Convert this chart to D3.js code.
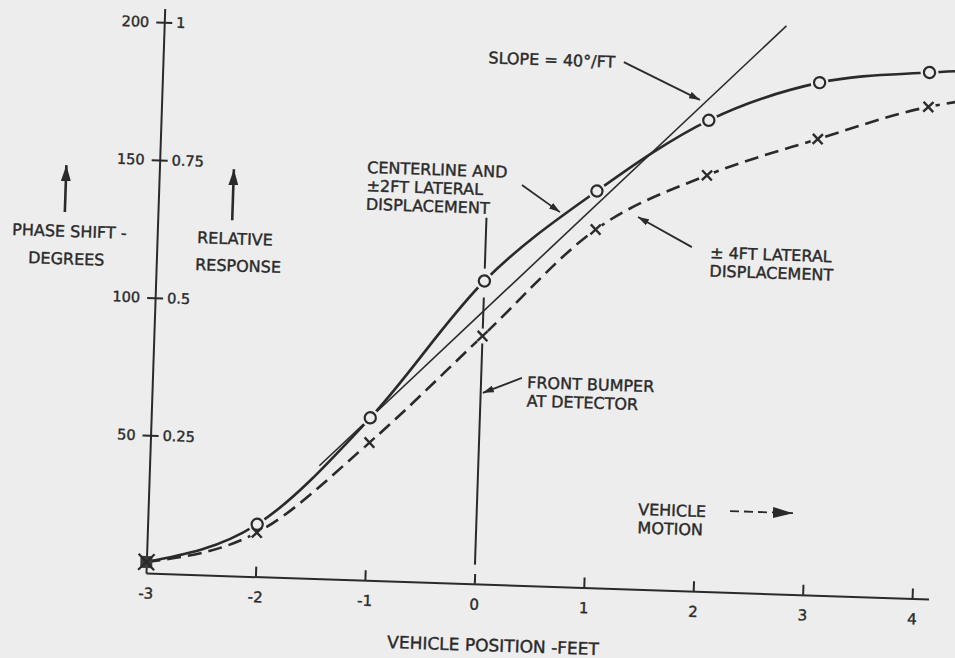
<!DOCTYPE html>
<html>
<head>
<meta charset="utf-8">
<script src="https://cdn.jsdelivr.net/npm/d3@7"></script>
<style>
body { margin: 0; background: #ededed; }
svg { display: block; }
text { font-family: "DejaVu Sans", sans-serif; fill: #2a2a2a; }
</style>
</head>
<body>
<svg id="chart" width="955" height="658"></svg>
<script>
// vehicle position (ft) and phase shift (degrees)
var positions = [-3, -2, -1, 0, 1, 2, 3, 4, 4.3];
var centerline = [4, 19, 59, 110, 144, 171, 186, 191, 192];
var lateral4 = [4, 16, 50, 90, 130, 151, 165.5, 178.5, 181];

var degTicks = [50, 100, 150, 200];
var respTicks = ["0.25", "0.5", "0.75", "1"];
var xTicks = [-3, -2, -1, 0, 1, 2, 3, 4];

// the 40 deg/ft reference line
var slope = 40, slope_x0 = -1, slope_y0 = 59, slope_from = -1.45, slope_to = 2.68;

var ink = "#2a2a2a", bg = "#ededed";

var svg = d3.select("#chart");
svg.append("rect").attr("width", 955).attr("height", 658).attr("fill", bg);

var defs = svg.append("defs");
function arrowDef(id, len, wid){
	defs.append("marker")
			.attr("id", id)
			.attr("viewBox", "0 0 " + len + " " + wid)
			.attr("refX", len).attr("refY", wid / 2)
			.attr("markerWidth", len).attr("markerHeight", wid)
			.attr("markerUnits", "userSpaceOnUse")
			.attr("orient", "auto")
		.append("path")
			.attr("d", "M0,0L" + len + "," + (wid / 2) + "L0," + wid + "Z")
			.attr("fill", ink);
}
arrowDef("ah", 11, 7);
arrowDef("big", 16, 10);
arrowDef("motion", 20, 11);

var x = d3.scaleLinear().domain([-3, 4.15]).range([146, 146 + 7.15 * 109.5]);
var y = d3.scaleLinear().domain([0, 205]).range([573, 573 - 205 * 2.755]);

// the scanned page is slightly tilted
var g = svg.append("g").attr("transform", "rotate(1.9,146,573)");

// y axis (degrees on the left, relative response on the right)
var yAxis = g.append("g")
		.attr("transform", "translate(" + x(-3) + ",0)")
		.call(d3.axisLeft(y).tickValues(degTicks).tickSize(8).tickSizeOuter(0).tickPadding(7));
yAxis.selectAll(".tick line").attr("x1", 8);
yAxis.selectAll("path, line").attr("stroke", ink).attr("stroke-width", 2);
yAxis.selectAll(".tick").append("text")
		.attr("x", 12).attr("dy", "0.32em")
		.attr("text-anchor", "start")
		.text(function(d, i){ return respTicks[i]; });
yAxis.selectAll(".tick text")
		.attr("font-size", 14.5).attr("fill", ink)
		.attr("stroke", ink).attr("stroke-width", 0.4);

// x axis
var xAxis = g.append("g")
		.attr("transform", "translate(0," + y(0) + ")")
		.call(d3.axisBottom(x).tickValues(xTicks).tickSize(-10).tickSizeOuter(0).tickPadding(15)
			.tickFormat(function(d){ return String(d); }));
xAxis.selectAll("path, line").attr("stroke", ink).attr("stroke-width", 2);
xAxis.selectAll(".tick text")
		.attr("font-size", 15).attr("fill", ink)
		.attr("stroke", ink).attr("stroke-width", 0.4);
xAxis.selectAll(".tick").filter(function(d){ return d == -3; }).select("line").remove();

// slope line
g.append("line")
		.attr("x1", x(slope_from)).attr("y1", y(slope_y0 + slope * (slope_from - slope_x0)))
		.attr("x2", x(slope_to)).attr("y2", y(slope_y0 + slope * (slope_to - slope_x0)))
		.attr("stroke", ink).attr("stroke-width", 1.6);

// front bumper line and centerline leader
g.append("line")
		.attr("x1", x(0)).attr("y1", y(7)).attr("x2", x(0)).attr("y2", y(104))
		.attr("stroke", ink).attr("stroke-width", 2);
g.append("line")
		.attr("x1", x(0)).attr("y1", y(114.5)).attr("x2", x(0)).attr("y2", y(133))
		.attr("stroke", ink).attr("stroke-width", 2);

var line = d3.line()
		.x(function(d){ return x(d[0]); })
		.y(function(d){ return y(d[1]); })
		.curve(d3.curveMonotoneX);

g.append("path")
		.datum(d3.zip(positions, centerline))
		.attr("d", line)
		.attr("fill", "none").attr("stroke", ink).attr("stroke-width", 2.6);

g.append("path")
		.datum(d3.zip(positions, lateral4))
		.attr("d", line)
		.attr("fill", "none").attr("stroke", ink).attr("stroke-width", 2.6)
		.attr("stroke-dasharray", "14,7");

// markers at whole feet
var circ = d3.zip(positions, centerline).filter(function(d){ return Number.isInteger(d[0]) && d[0] > -3; });
var cross = d3.zip(positions, lateral4).filter(function(d){ return Number.isInteger(d[0]) && d[0] > -3; });

g.selectAll(".halo-x").data(cross).enter().append("circle")
		.attr("cx", function(d){ return x(d[0]); }).attr("cy", function(d){ return y(d[1]); })
		.attr("r", 7.5).attr("fill", bg);
g.selectAll(".halo-o").data(circ).enter().append("circle")
		.attr("cx", function(d){ return x(d[0]); }).attr("cy", function(d){ return y(d[1]); })
		.attr("r", 9).attr("fill", bg);

g.selectAll(".mark-x").data(cross).enter().append("path")
		.attr("d", function(d){
			var cx = x(d[0]), cy = y(d[1]), s = 5;
			return "M" + (cx - s) + "," + (cy - s) + "L" + (cx + s) + "," + (cy + s) +
				"M" + (cx + s) + "," + (cy - s) + "L" + (cx - s) + "," + (cy + s);
		})
		.attr("stroke", ink).attr("stroke-width", 2.4);

g.selectAll(".mark-o").data(circ).enter().append("circle")
		.attr("cx", function(d){ return x(d[0]); }).attr("cy", function(d){ return y(d[1]); })
		.attr("r", 5.6).attr("fill", bg).attr("stroke", ink).attr("stroke-width", 2.2);

// both series start together at -3
var sx = x(positions[0]), sy = y(centerline[0]);
g.append("rect")
		.attr("x", sx - 6).attr("y", sy - 6).attr("width", 12).attr("height", 12)
		.attr("fill", "#3a3a3a");
g.append("path")
		.attr("d", "M" + (sx - 8) + "," + (sy - 8) + "L" + (sx + 8) + "," + (sy + 8) +
			"M" + (sx + 8) + "," + (sy - 8) + "L" + (sx - 8) + "," + (sy + 8))
		.attr("stroke", ink).attr("stroke-width", 2.2);

// annotations
var notes = [
	{ lines: ["SLOPE = 40°/FT"], x: -0.03, y: 189 },
	{ lines: ["CENTERLINE AND", "±2FT LATERAL", "DISPLACEMENT"], x: -1.104, y: 147.8 },
	{ lines: ["FRONT BUMPER", "AT DETECTOR"], x: 0.422, y: 71.7 },
	{ lines: ["± 4FT LATERAL", "DISPLACEMENT"], x: 2.052, y: 121 },
	{ lines: ["VEHICLE", "MOTION"], x: 1.473, y: 27 },
	{ lines: ["PHASE SHIFT -"], x: -4.325, y: 121 },
	{ lines: ["DEGREES"], x: -4.171, y: 111 },
	{ lines: ["RELATIVE"], x: -2.635, y: 120.3 },
	{ lines: ["RESPONSE"], x: -2.645, y: 110.5 },
	{ lines: ["VEHICLE POSITION -FEET"], x: -0.777, y: -24.3, size: 17 }
];

notes.forEach(function(n){
	var t = g.append("text")
			.attr("x", x(n.x)).attr("y", y(n.y))
			.attr("font-size", n.size || 16)
			.attr("stroke", ink).attr("stroke-width", 0.4);
	n.lines.forEach(function(l, i){
		t.append("tspan").attr("x", x(n.x)).attr("dy", i == 0 ? 0 : "1.15em").text(l);
	});
});

var leaders = [
	{ from: [1.207, 191.1], to: [1.913, 178.3], head: "ah" },
	{ from: [0.314, 145.3], to: [0.669, 135.9], head: "ah" },
	{ from: [0.372, 75.3], to: [0.02, 69.4], head: "ah" },
	{ from: [1.884, 124.8], to: [1.383, 135.1], head: "ah" },
	{ from: [-3.85, 130], to: [-3.85, 147], head: "big" },
	{ from: [-2.32, 129], to: [-2.32, 147.5], head: "big" }
];

g.selectAll(".leader").data(leaders).enter().append("line")
		.attr("x1", function(d){ return x(d.from[0]); }).attr("y1", function(d){ return y(d.from[1]); })
		.attr("x2", function(d){ return x(d.to[0]); }).attr("y2", function(d){ return y(d.to[1]); })
		.attr("stroke", ink)
		.attr("stroke-width", function(d){ return d.head == "big" ? 2.6 : 1.8; })
		.attr("marker-end", function(d){ return "url(#" + d.head + ")"; });

// vehicle motion arrow
g.append("line")
		.attr("x1", x(2.312)).attr("y1", y(29.5)).attr("x2", x(2.887)).attr("y2", y(29.5))
		.attr("stroke", ink).attr("stroke-width", 1.8)
		.attr("stroke-dasharray", "9,5")
		.attr("marker-end", "url(#motion)");
</script>
</body>
</html>
